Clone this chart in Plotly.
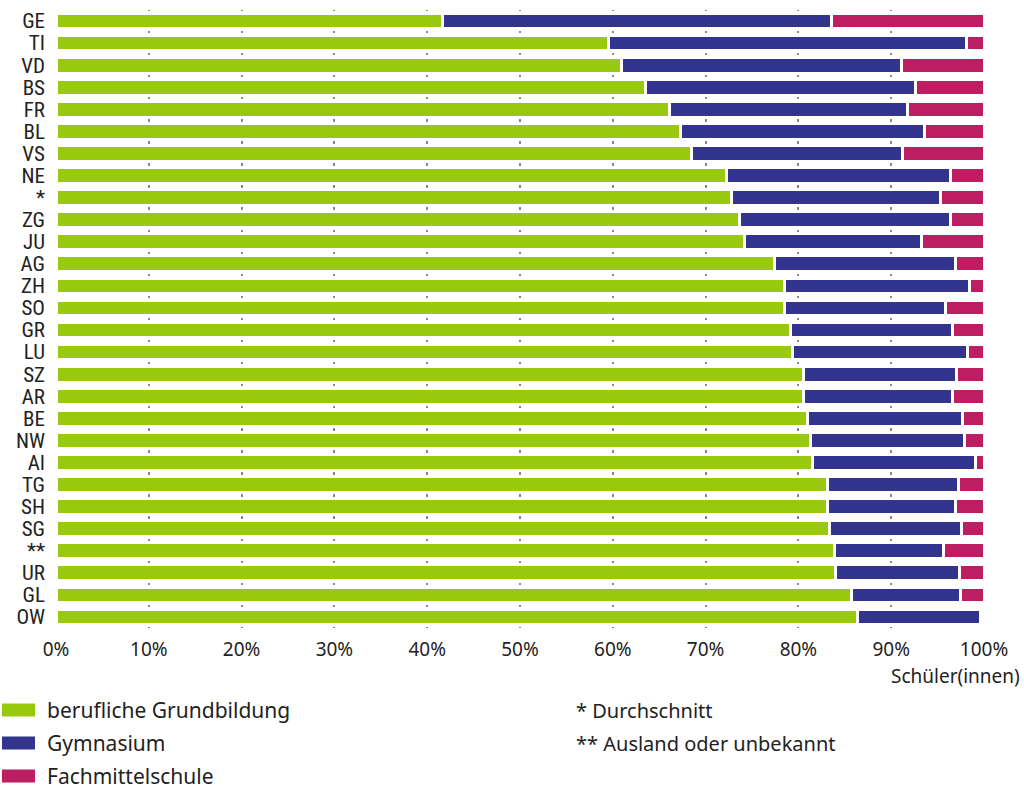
import plotly.graph_objects as go

# ---- data ----
cantons = ["GE", "TI", "VD", "BS", "FR", "BL", "VS", "NE", "*", "ZG", "JU", "AG", "ZH", "SO",
           "GR", "LU", "SZ", "AR", "BE", "NW", "AI", "TG", "SH", "SG", "**", "UR", "GL", "OW"]
berufliche = [41.7, 59.5, 60.9, 63.5, 66.1, 67.3, 68.5, 72.3, 72.8, 73.6, 74.2, 77.4, 78.5, 78.55,
              79.15, 79.4, 80.5, 80.55, 81.0, 81.25, 81.5, 83.1, 83.15, 83.35, 83.85, 84.0, 85.7, 86.4]
gymnasium = [41.9, 38.6, 30.25, 29.1, 25.7, 26.3, 22.7, 24.1, 22.5, 22.75, 19.1, 19.5, 19.9, 17.25,
             17.45, 18.85, 16.5, 16.1, 16.65, 16.65, 17.6, 14.15, 13.75, 14.2, 11.8, 13.35, 11.75, 13.2]
fachmittel = [16.4, 1.9, 8.85, 7.4, 8.2, 6.4, 8.8, 3.6, 4.7, 3.65, 6.7, 3.1, 1.6, 4.2,
              3.4, 1.75, 3.0, 3.35, 2.35, 2.1, 0.9, 2.75, 3.1, 2.45, 4.35, 2.65, 2.55, 0.0]
series_names = ["berufliche Grundbildung", "Gymnasium", "Fachmittelschule"]
series_colors = ["#99c90f", "#33348e", "#bc1e61"]
tick_values = [0, 10, 20, 30, 40, 50, 60, 70, 80, 90, 100]
tick_labels = ["0%", "10%", "20%", "30%", "40%", "50%", "60%", "70%", "80%", "90%", "100%"]
footnotes = ["* Durchschnitt", "** Ausland oder unbekannt"]
axis_title = "Schüler(innen)"

W, H = 1024, 787
ML, MR, MT, MB = 56, 40, 10, 159
PW, PH = W - ML - MR, H - MT - MB
ROW = PH / len(cantons)

def px_x(px):
    return (px - ML) / PW

def px_y(py):
    return (H - MB - py) / PH

FONT = "Noto Sans, Open Sans, sans-serif"
NARROW = "Liberation Sans Narrow, Roboto Condensed, DejaVu Sans Condensed, sans-serif"
TXT = "#222222"

fig = go.Figure()
for name, vals, color in zip(series_names, [berufliche, gymnasium, fachmittel], series_colors):
    fig.add_trace(go.Bar(
        y=cantons, x=vals, orientation="h", name=name,
        marker=dict(color=color, line=dict(color="white", width=3)),
        showlegend=False,
    ))

shapes = []
annotations = []
leg_y = [710, 743, 776]
for name, color, yy in zip(series_names, series_colors, leg_y):
    shapes.append(dict(type="rect", xref="paper", yref="paper",
                       x0=px_x(2), x1=px_x(35), y0=px_y(yy + 6.5), y1=px_y(yy - 6.5),
                       fillcolor=color, line=dict(width=0)))
    annotations.append(dict(xref="paper", yref="paper", x=px_x(45), y=px_y(yy),
                            text=name, showarrow=False, xanchor="left", yanchor="middle",
                            font=dict(family=FONT, size=21, color=TXT)))
for note, yy in zip(footnotes, [710, 743]):
    annotations.append(dict(xref="paper", yref="paper", x=px_x(574), y=px_y(yy),
                            text=note, showarrow=False, xanchor="left", yanchor="middle",
                            font=dict(family=FONT, size=20, color=TXT)))
annotations.append(dict(xref="paper", yref="paper", x=px_x(1022), y=px_y(676),
                        text=axis_title, showarrow=False, xanchor="right", yanchor="middle",
                        font=dict(family=FONT, size=19, color=TXT)))

dash = "1.2px,%.3fpx,1.2px,0px" % (ROW - 2.4)

fig.update_layout(
    width=W, height=H,
    margin=dict(l=ML, r=MR, t=MT, b=MB, pad=0),
    barmode="stack", bargap=0.29,
    plot_bgcolor="white", paper_bgcolor="white",
    shapes=shapes, annotations=annotations,
    xaxis=dict(range=[0, 100], tickmode="array", tickvals=tick_values, ticktext=tick_labels,
               showgrid=True, gridcolor="#888888", gridwidth=2.4, griddash=dash,
               zeroline=False, showline=False, ticks="", ticklabelstandoff=8,
               tickfont=dict(family=FONT, size=19, color=TXT), fixedrange=True),
    yaxis=dict(type="category", autorange="reversed", showgrid=False, zeroline=False,
               tickmode="array", tickvals=cantons, ticktext=cantons,
               ticks="", ticklabelstandoff=10,
               tickfont=dict(family=NARROW, size=21, color=TXT), fixedrange=True),
)

fig.write_html("out.html", config={"displayModeBar": False},
               post_script="document.body.style.margin='0';document.body.style.overflow='hidden';")
